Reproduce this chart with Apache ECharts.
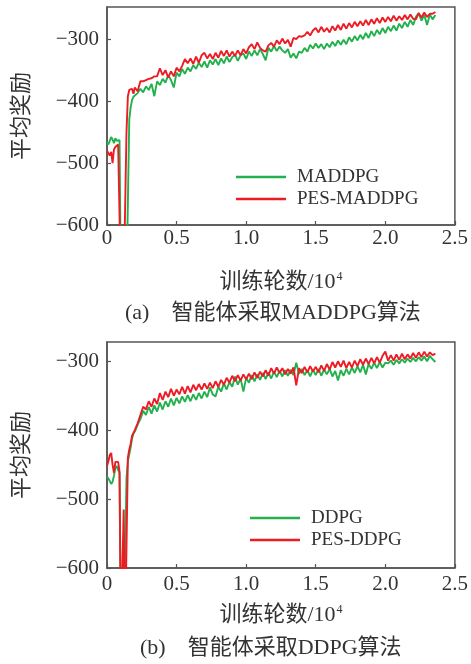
<!DOCTYPE html>
<html>
<head>
<meta charset="utf-8">
<script src="https://cdn.jsdelivr.net/npm/echarts@6/dist/echarts.min.js"></script>
<style>
html,body{margin:0;padding:0;background:#fff;}
#chart{width:471px;height:664px;}
</style>
</head>
<body>
<div id="chart"></div>
<script>
// Training episodes (x 10^4)
const episodes = [0,0.01,0.02,0.03,0.04,0.05,0.06,0.07,0.08,0.09,0.10,0.11,0.12,0.13,0.14,0.15,0.16,0.17,0.18,0.19,0.20,
0.22,0.24,0.26,0.28,0.30,0.32,0.34,0.36,0.38,0.40,
0.42,0.44,0.46,0.48,0.50,0.52,0.54,0.56,0.58,0.60,
0.62,0.64,0.66,0.68,0.70,0.72,0.74,0.76,0.78,0.80,
0.82,0.84,0.86,0.88,0.90,0.92,0.94,0.96,0.98,1.00,
1.02,1.04,1.06,1.08,1.10,1.12,1.14,1.16,1.18,1.20,
1.22,1.24,1.26,1.28,1.30,1.32,1.34,1.36,1.38,1.40,
1.42,1.44,1.46,1.48,1.50,1.52,1.54,1.56,1.58,1.60,
1.62,1.64,1.66,1.68,1.70,1.72,1.74,1.76,1.78,1.80,
1.82,1.84,1.86,1.88,1.90,1.92,1.94,1.96,1.98,2.00,
2.02,2.04,2.06,2.08,2.10,2.12,2.14,2.16,2.18,2.20,
2.22,2.24,2.26,2.28,2.30,2.32,2.34,2.36];

const maddpg = [-466,-470,-472,-458,-462,-468,-460,-464,-461,-463,-700,-700,-700,-700,-700,-700,-430,-410,-398,-393,-390,
-387,-380,-386,-376,-382,-372,-392,-368,-374,-364,
-370,-358,-366,-378,-354,-360,-348,-356,-346,-352,
-342,-348,-338,-345,-336,-346,-334,-341,-332,-342,
-331,-339,-328,-337,-329,-325,-335,-326,-323,-332,
-320,-327,-318,-326,-316,-324,-334,-314,-320,-311,
-319,-312,-318,-322,-316,-330,-323,-331,-320,-322,
-314,-320,-309,-315,-307,-314,-308,-316,-307,-313,
-304,-311,-302,-309,-301,-308,-297,-304,-295,-302,
-293,-300,-290,-298,-287,-295,-285,-292,-282,-290,
-280,-287,-278,-286,-275,-282,-272,-280,-269,-277,
-264,-258,-270,-261,-277,-260,-268,-261];

const pesMaddpg = [-480,-478,-488,-482,-500,-478,-474,-476,-470,-472,-700,-700,-700,-700,-450,-392,-382,-385,-380,-388,-378,
-384,-368,-368,-366,-364,-363,-360,-360,-347,-358,
-350,-362,-352,-360,-346,-352,-343,-332,-339,-331,
-340,-328,-338,-326,-322,-331,-324,-332,-322,-330,
-319,-327,-318,-328,-320,-327,-318,-326,-316,-323,
-313,-308,-316,-305,-314,-318,-320,-310,-306,-312,
-302,-308,-299,-307,-301,-312,-298,-300,-295,-296,
-294,-288,-294,-286,-282,-289,-280,-288,-282,-289,
-279,-286,-277,-285,-275,-283,-274,-281,-272,-279,
-271,-278,-269,-277,-268,-275,-266,-274,-265,-272,
-264,-271,-262,-270,-263,-269,-261,-268,-260,-267,
-268,-258,-265,-257,-264,-259,-259,-256];

const ddpg = [-467,-470,-472,-478,-475,-466,-455,-452,-458,-462,-700,-700,-700,-700,-470,-445,-435,-425,-412,-405,-402,
-392,-384,-372,-378,-366,-376,-364,-373,-360,-370,
-358,-366,-354,-364,-353,-361,-351,-359,-349,-358,
-348,-356,-346,-354,-344,-352,-338,-348,-351,-337,
-344,-332,-341,-330,-337,-322,-334,-325,-344,-324,
-331,-320,-329,-319,-327,-317,-326,-316,-325,-315,
-323,-314,-322,-313,-321,-312,-320,-302,-318,-311,
-320,-313,-322,-312,-320,-311,-321,-312,-319,-311,
-322,-314,-328,-313,-321,-311,-319,-309,-317,-307,
-316,-305,-319,-304,-311,-302,-310,-301,-309,-302,
-303,-299,-305,-298,-303,-297,-302,-296,-301,-295,
-300,-294,-299,-293,-300,-292,-297,-301];

const pesDdpg = [-452,-445,-436,-433,-450,-462,-446,-448,-446,-460,-700,-700,-515,-700,-700,-440,-428,-420,-408,-410,-400,
-390,-378,-366,-370,-358,-366,-354,-362,-346,-356,
-344,-352,-340,-350,-341,-348,-337,-347,-336,-345,
-334,-342,-333,-341,-332,-340,-331,-339,-329,-337,
-327,-334,-324,-331,-321,-329,-320,-328,-319,-326,
-318,-326,-316,-324,-315,-322,-313,-321,-310,-318,
-309,-317,-310,-319,-311,-318,-309,-335,-310,-317,
-308,-316,-307,-315,-308,-316,-306,-314,-304,-312,
-301,-309,-300,-308,-299,-310,-301,-309,-299,-307,
-297,-305,-296,-304,-295,-303,-294,-302,-292,-286,
-299,-291,-299,-290,-298,-289,-297,-290,-296,-288,
-295,-287,-294,-286,-293,-287,-291,-289];

const xTicks = [0, 0.5, 1.0, 1.5, 2.0, 2.5];
const xTickLabels = ['0', '0.5', '1.0', '1.5', '2.0', '2.5'];
const yTicks = [-600, -500, -400, -300];
const yTickLabels = ['\u2212600', '\u2212500', '\u2212400', '\u2212300'];
const seriesNamesA = ['MADDPG', 'PES-MADDPG'];
const seriesNamesB = ['DDPG', 'PES-DDPG'];
const captions = ['(a)\u3000智能体采取MADDPG算法', '(b)\u3000智能体采取DDPG算法'];
const xName = '训练轮数/10{sup|4}';
const yName = '平均奖励';

const FONT = '"Liberation Serif","Noto Sans CJK SC",serif';
const TXT = '#333';
const AX = '#555';
const GREEN = '#22b14c';
const RED = '#ed1c24';

function pairs(vals) { return vals.map((v, i) => [episodes[i], v]); }
function xFmt(v) { const i = xTicks.findIndex(t => Math.abs(t - v) < 1e-9); return i >= 0 ? xTickLabels[i] : ''; }
function yFmt(v) { const i = yTicks.indexOf(v); return i >= 0 ? yTickLabels[i] : ''; }

function makeX(gi, labelMargin, nameGap) {
  return {
    type: 'value', gridIndex: gi, min: 0, max: 2.5, interval: 0.5,
    axisLine: { show: true, lineStyle: { color: AX, width: 1.5 } },
    axisTick: { show: true, inside: true, length: 4, lineStyle: { color: AX, width: 1.2 } },
    splitLine: { show: false },
    axisLabel: { formatter: xFmt, fontSize: 21, fontFamily: FONT, color: TXT, margin: labelMargin },
    name: xName, nameLocation: 'middle', nameGap: nameGap,
    nameTextStyle: { fontSize: 22, fontFamily: FONT, color: TXT,
      rich: { sup: { fontSize: 12, fontFamily: FONT, color: TXT, verticalAlign: 'top', padding: [0, 0, 10, 1] } } }
  };
}
function makeY(gi, max) {
  return {
    type: 'value', gridIndex: gi, min: -600, max: max, interval: 100,
    axisLine: { show: true, lineStyle: { color: AX, width: 1.5 } },
    axisTick: { show: true, inside: true, length: 4, lineStyle: { color: AX, width: 1.2 } },
    splitLine: { show: false },
    axisLabel: { formatter: yFmt, fontSize: 21, fontFamily: FONT, color: TXT, margin: 8, showMaxLabel: false },
    name: yName, nameLocation: 'middle', nameGap: 74, nameRotate: 90,
    nameTextStyle: { fontSize: 22, fontFamily: FONT, color: TXT }
  };
}
function makeLegend(names, left, top) {
  return {
    data: names, orient: 'vertical', left: left, top: top, padding: 0,
    itemWidth: 50, itemHeight: 2.5, itemGap: 0, icon: 'rect',
    textStyle: { fontSize: 19, fontFamily: FONT, color: TXT, lineHeight: 22, padding: [0, 0, 0, 6] }
  };
}
function makeLine(name, vals, color, gi) {
  return {
    name: name, type: 'line', xAxisIndex: gi, yAxisIndex: gi, data: pairs(vals),
    showSymbol: false, symbol: 'none', color: color, clip: true,
    lineStyle: { color: color, width: 1.9 }, animation: false
  };
}

const chart = echarts.init(document.getElementById('chart'), null, { renderer: 'canvas' });
chart.setOption({
  animation: false,
  backgroundColor: '#fff',
  title: [
    { text: captions[0], left: 125, top: 301, padding: 0,
      textStyle: { fontSize: 22, fontWeight: 'normal', fontFamily: FONT, color: TXT, lineHeight: 24 } },
    { text: captions[1], left: 140, top: 636, padding: 0,
      textStyle: { fontSize: 22, fontWeight: 'normal', fontFamily: FONT, color: TXT, lineHeight: 24 } }
  ],
  grid: [
    { left: 107, top: 7, width: 348, height: 218, show: true, borderColor: AX, borderWidth: 1.5, backgroundColor: 'transparent' },
    { left: 107, top: 342, width: 348, height: 226, show: true, borderColor: AX, borderWidth: 1.5, backgroundColor: 'transparent' }
  ],
  xAxis: [ makeX(0, 3, 46), makeX(1, 6, 36) ],
  yAxis: [ makeY(0, -248), makeY(1, -272) ],
  legend: [ makeLegend(seriesNamesA, 236, 166), makeLegend(seriesNamesB, 250, 507) ],
  series: [
    makeLine(seriesNamesA[0], maddpg, GREEN, 0),
    makeLine(seriesNamesA[1], pesMaddpg, RED, 0),
    makeLine(seriesNamesB[0], ddpg, GREEN, 1),
    makeLine(seriesNamesB[1], pesDdpg, RED, 1)
  ]
});
</script>
</body>
</html>
